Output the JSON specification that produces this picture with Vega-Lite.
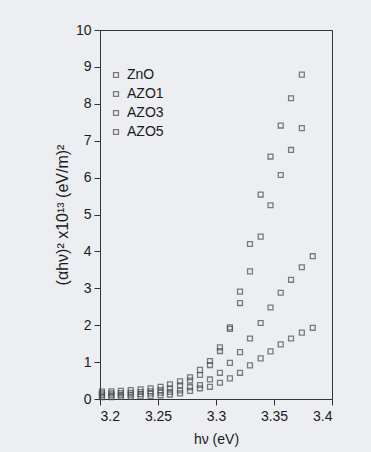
{
  "$schema": "https://vega.github.io/schema/vega-lite/v6.json",
  "width": 232,
  "height": 369,
  "autosize": {"type": "none"},
  "padding": {"left": 100, "top": 30, "right": 39, "bottom": 53},
  "background": "#eceef2",
  "config": {
    "font": "Liberation Sans",
    "view": {"stroke": "#333", "strokeWidth": 1},
    "axis": {"grid": false, "domainColor": "#333", "tickColor": "#333", "labelColor": "#1a1a1a", "titleColor": "#1a1a1a", "labelFontSize": 14, "titleFontSize": 14, "titleFontWeight": "normal", "tickSize": 6}
  },
  "data": {
    "values": [
      {"hv": 3.2017, "v": 0.20, "s": "ZnO"}, {"hv": 3.2098, "v": 0.21, "s": "ZnO"}, {"hv": 3.2180, "v": 0.22, "s": "ZnO"}, {"hv": 3.2265, "v": 0.24, "s": "ZnO"}, {"hv": 3.2350, "v": 0.26, "s": "ZnO"}, {"hv": 3.2436, "v": 0.29, "s": "ZnO"}, {"hv": 3.2522, "v": 0.33, "s": "ZnO"}, {"hv": 3.2603, "v": 0.40, "s": "ZnO"}, {"hv": 3.2690, "v": 0.48, "s": "ZnO"}, {"hv": 3.2776, "v": 0.59, "s": "ZnO"}, {"hv": 3.2862, "v": 0.79, "s": "ZnO"}, {"hv": 3.2948, "v": 1.03, "s": "ZnO"}, {"hv": 3.3034, "v": 1.40, "s": "ZnO"}, {"hv": 3.3120, "v": 1.94, "s": "ZnO"}, {"hv": 3.3207, "v": 2.91, "s": "ZnO"}, {"hv": 3.3293, "v": 4.20, "s": "ZnO"}, {"hv": 3.3385, "v": 5.54, "s": "ZnO"}, {"hv": 3.3470, "v": 6.57, "s": "ZnO"}, {"hv": 3.3558, "v": 7.41, "s": "ZnO"}, {"hv": 3.3647, "v": 8.15, "s": "ZnO"}, {"hv": 3.3740, "v": 8.79, "s": "ZnO"},
      {"hv": 3.2017, "v": 0.15, "s": "AZO1"}, {"hv": 3.2098, "v": 0.15, "s": "AZO1"}, {"hv": 3.2180, "v": 0.16, "s": "AZO1"}, {"hv": 3.2265, "v": 0.17, "s": "AZO1"}, {"hv": 3.2350, "v": 0.19, "s": "AZO1"}, {"hv": 3.2436, "v": 0.21, "s": "AZO1"}, {"hv": 3.2522, "v": 0.24, "s": "AZO1"}, {"hv": 3.2603, "v": 0.29, "s": "AZO1"}, {"hv": 3.2690, "v": 0.37, "s": "AZO1"}, {"hv": 3.2776, "v": 0.50, "s": "AZO1"}, {"hv": 3.2862, "v": 0.65, "s": "AZO1"}, {"hv": 3.2948, "v": 0.92, "s": "AZO1"}, {"hv": 3.3034, "v": 1.30, "s": "AZO1"}, {"hv": 3.3120, "v": 1.90, "s": "AZO1"}, {"hv": 3.3207, "v": 2.60, "s": "AZO1"}, {"hv": 3.3293, "v": 3.46, "s": "AZO1"}, {"hv": 3.3385, "v": 4.40, "s": "AZO1"}, {"hv": 3.3470, "v": 5.25, "s": "AZO1"}, {"hv": 3.3558, "v": 6.07, "s": "AZO1"}, {"hv": 3.3647, "v": 6.75, "s": "AZO1"}, {"hv": 3.3740, "v": 7.34, "s": "AZO1"},
      {"hv": 3.2017, "v": 0.10, "s": "AZO3"}, {"hv": 3.2098, "v": 0.10, "s": "AZO3"}, {"hv": 3.2180, "v": 0.11, "s": "AZO3"}, {"hv": 3.2265, "v": 0.12, "s": "AZO3"}, {"hv": 3.2350, "v": 0.13, "s": "AZO3"}, {"hv": 3.2436, "v": 0.15, "s": "AZO3"}, {"hv": 3.2522, "v": 0.17, "s": "AZO3"}, {"hv": 3.2603, "v": 0.19, "s": "AZO3"}, {"hv": 3.2690, "v": 0.23, "s": "AZO3"}, {"hv": 3.2776, "v": 0.32, "s": "AZO3"}, {"hv": 3.2862, "v": 0.38, "s": "AZO3"}, {"hv": 3.2948, "v": 0.53, "s": "AZO3"}, {"hv": 3.3034, "v": 0.71, "s": "AZO3"}, {"hv": 3.3120, "v": 0.98, "s": "AZO3"}, {"hv": 3.3207, "v": 1.27, "s": "AZO3"}, {"hv": 3.3293, "v": 1.64, "s": "AZO3"}, {"hv": 3.3385, "v": 2.06, "s": "AZO3"}, {"hv": 3.3470, "v": 2.48, "s": "AZO3"}, {"hv": 3.3558, "v": 2.88, "s": "AZO3"}, {"hv": 3.3647, "v": 3.23, "s": "AZO3"}, {"hv": 3.3740, "v": 3.57, "s": "AZO3"}, {"hv": 3.3834, "v": 3.87, "s": "AZO3"},
      {"hv": 3.2017, "v": 0.05, "s": "AZO5"}, {"hv": 3.2098, "v": 0.05, "s": "AZO5"}, {"hv": 3.2180, "v": 0.06, "s": "AZO5"}, {"hv": 3.2265, "v": 0.06, "s": "AZO5"}, {"hv": 3.2350, "v": 0.07, "s": "AZO5"}, {"hv": 3.2436, "v": 0.08, "s": "AZO5"}, {"hv": 3.2522, "v": 0.10, "s": "AZO5"}, {"hv": 3.2603, "v": 0.12, "s": "AZO5"}, {"hv": 3.2690, "v": 0.15, "s": "AZO5"}, {"hv": 3.2776, "v": 0.22, "s": "AZO5"}, {"hv": 3.2862, "v": 0.29, "s": "AZO5"}, {"hv": 3.2948, "v": 0.33, "s": "AZO5"}, {"hv": 3.3034, "v": 0.44, "s": "AZO5"}, {"hv": 3.3120, "v": 0.56, "s": "AZO5"}, {"hv": 3.3207, "v": 0.71, "s": "AZO5"}, {"hv": 3.3293, "v": 0.91, "s": "AZO5"}, {"hv": 3.3385, "v": 1.10, "s": "AZO5"}, {"hv": 3.3470, "v": 1.29, "s": "AZO5"}, {"hv": 3.3558, "v": 1.48, "s": "AZO5"}, {"hv": 3.3647, "v": 1.64, "s": "AZO5"}, {"hv": 3.3740, "v": 1.80, "s": "AZO5"}, {"hv": 3.3834, "v": 1.93, "s": "AZO5"}
    ]
  },
  "mark": {"type": "point", "shape": "square", "size": 24, "filled": false, "strokeWidth": 1.3},
  "encoding": {
    "x": {"field": "hv", "type": "quantitative", "title": "hν (eV)", "scale": {"domain": [3.2, 3.4], "nice": false, "zero": false}, "axis": {"values": [3.2, 3.25, 3.3, 3.35, 3.4], "format": "~g", "labelPadding": 4, "titlePadding": 9}},
    "y": {"field": "v", "type": "quantitative", "title": "(αhν)² x10¹³ (eV/m)²", "scale": {"domain": [0, 10], "nice": false}, "axis": {"values": [0, 1, 2, 3, 4, 5, 6, 7, 8, 9, 10], "labelPadding": 3, "titlePadding": 5, "titleFontSize": 16}},
    "color": {"field": "s", "type": "nominal", "sort": ["ZnO", "AZO1", "AZO3", "AZO5"], "scale": {"range": ["#4a4a4a", "#4a4a4a", "#4a4a4a", "#4a4a4a"]}, "legend": {"title": null, "orient": "none", "legendX": 9, "legendY": 38, "labelFontSize": 14, "labelColor": "#1a1a1a", "symbolSize": 24, "symbolStrokeWidth": 1.3, "rowPadding": 5, "labelOffset": 4}}
  }
}
